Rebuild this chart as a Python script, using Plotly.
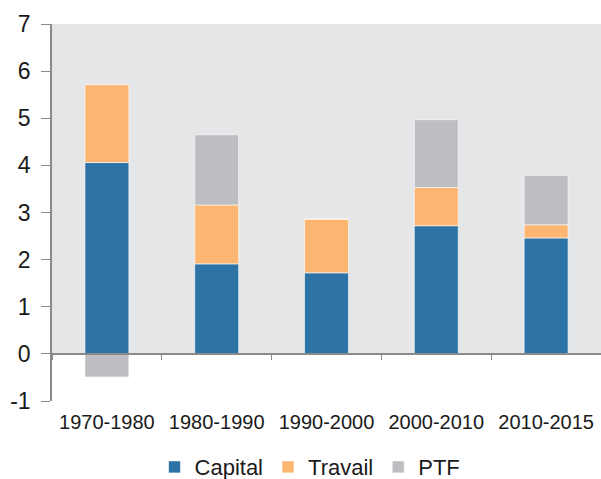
import plotly.graph_objects as go

categories = ["1970-1980", "1980-1990", "1990-2000", "2000-2010", "2010-2015"]
capital = [4.06, 1.91, 1.72, 2.72, 2.46]
travail = [1.65, 1.25, 1.14, 0.81, 0.28]
ptf = [-0.49, 1.49, 0.0, 1.44, 1.05]

y_ticks = [-1, 0, 1, 2, 3, 4, 5, 6, 7]
y_ticktext = ["-1", "0", "1", "2", "3", "4", "5", "6", "7"]

colors = {"Capital": "#2E73A6", "Travail": "#FDB672", "PTF": "#BDBEC2"}

fig = go.Figure()
for name, vals in [("Capital", capital), ("Travail", travail), ("PTF", ptf)]:
    fig.add_trace(go.Bar(
        x=categories, y=vals, name=name,
        marker=dict(color=colors[name], line=dict(color="rgba(255,255,255,0.6)", width=1)),
        width=0.4,
    ))

fig.add_shape(type="rect", xref="paper", yref="y", x0=0, x1=1, y0=0, y1=7,
              fillcolor="#E5E6E8", line=dict(width=0), layer="below")

fig.update_layout(
    barmode="relative",
    width=601, height=479,
    margin=dict(l=52, r=0, t=24, b=78, autoexpand=False),
    plot_bgcolor="white", paper_bgcolor="white",
    font=dict(family="Liberation Sans, Arial, sans-serif", color="#1a1a1a"),
    showlegend=True,
    legend=dict(orientation="h", x=0.47, xanchor="center",
                yref="paper", y=-0.231, yanchor="bottom",
                font=dict(size=22), itemwidth=30, traceorder="normal"),
    xaxis=dict(
        anchor="free", position=0.125, automargin=False,
        showline=True, linecolor="#8a8a8a", linewidth=1.5,
        ticks="outside", tickson="boundaries", ticklen=5, tickcolor="#8a8a8a",
        ticklabelstandoff=50,
        tickfont=dict(size=20), showgrid=False,
    ),
    yaxis=dict(
        range=[-1, 7], tickvals=y_ticks, ticktext=y_ticktext,
        showgrid=False, zeroline=False, automargin=False,
        showline=True, linecolor="#8a8a8a", linewidth=1.5,
        ticks="outside", ticklen=9, tickcolor="#8a8a8a",
        tickfont=dict(size=23), ticklabelstandoff=6,
    ),
)

fig.write_html("out.html", config={"displayModeBar": False},
               post_script="document.body.style.margin='0';document.body.style.overflow='hidden';")
